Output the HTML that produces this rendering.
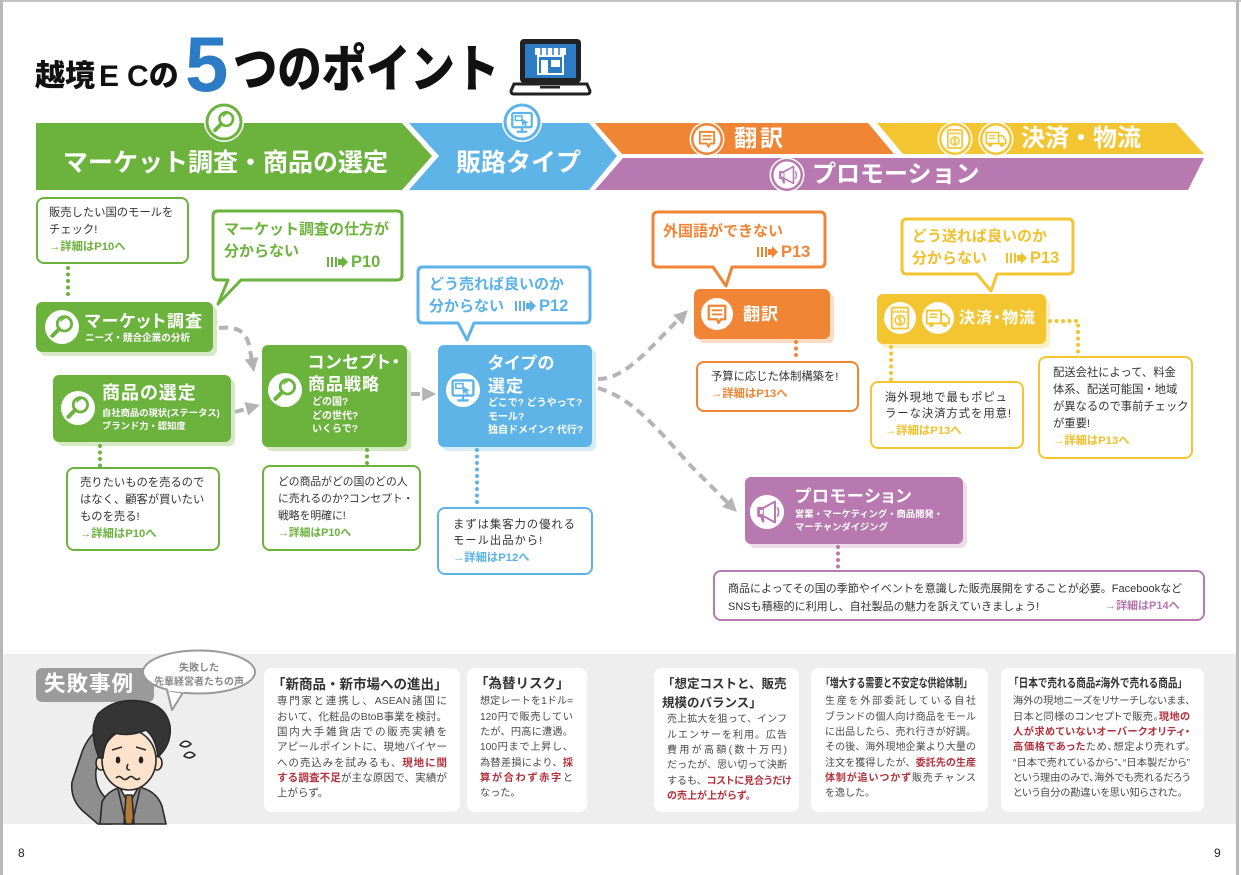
<!DOCTYPE html>
<html lang="ja"><head><meta charset="utf-8"><title>越境ECの5つのポイント</title>
<style>
*{margin:0;padding:0;box-sizing:border-box}
html,body{width:1241px;height:875px;overflow:hidden;background:#fff}
body{position:relative;font-family:"Liberation Sans","Noto Sans CJK JP",sans-serif;color:#333}
svg.bg{position:absolute;left:0;top:0}
.t{position:absolute;white-space:nowrap;line-height:1}
.w{color:#fff;font-weight:700}
.bx{font-size:11.3px;line-height:17px;color:#333}
.g{color:#6cb33e}.bl{color:#5bb2e6}.o{color:#ef8535}.y{color:#efc12c}.p{color:#b577ad}
.lk{font-weight:700}
.bb{font-size:15px;font-weight:700;line-height:22px}
.pn{display:flex;align-items:center;gap:3px;font-size:16.5px;font-weight:700}
.pn svg{fill:currentColor}
.ttl{font-size:17px;font-weight:700;color:#fff;font-feature-settings:"palt";letter-spacing:1px}
.sub{font-size:9.6px;font-weight:700;color:#fff}
.card{position:absolute;color:#4a4a4a;line-height:15.3px}
.card div{white-space:nowrap}
.j{text-align:justify;text-align-last:justify}
.r{color:#b2323c;font-weight:700}
.ct{position:absolute;font-weight:700;color:#333;white-space:nowrap;line-height:1}
</style></head><body>
<svg class="bg" width="1241" height="875" viewBox="0 0 1241 875">
<defs>
<symbol id="mag" viewBox="0 0 40 40">
<circle cx="23" cy="16" r="9" fill="none" stroke="currentColor" stroke-width="3.5"/>
<path d="M18.5,13 a5.5,5.5 0 0 1 5,-3.5" fill="none" stroke="currentColor" stroke-width="2"/>
<line x1="16.5" y1="22.5" x2="8" y2="31" stroke="currentColor" stroke-width="5" stroke-linecap="round"/>
</symbol>
<symbol id="mon" viewBox="0 0 40 40">
<rect x="7" y="8" width="26" height="19" rx="2" fill="none" stroke="currentColor" stroke-width="3"/>
<path d="M20,27 V32 M13,33 H27" stroke="currentColor" stroke-width="3"/>
<rect x="11" y="12" width="9" height="6" fill="none" stroke="currentColor" stroke-width="2"/>
<path d="M19,15 L29,21 L25,22 L27,26 L25,27 L23,23 L20,25 Z" fill="currentColor"/>
</symbol>
<symbol id="chat" viewBox="0 0 40 40">
<path d="M9,9 H31 V27 H25 L22,32 L20,27 H9 Z" fill="none" stroke="currentColor" stroke-width="3" stroke-linejoin="round"/>
<path d="M13,15 H27 M13,20.5 H27" stroke="currentColor" stroke-width="2.5"/>
</symbol>
<symbol id="calc" viewBox="0 0 40 40">
<rect x="9" y="6" width="22" height="28" rx="2" fill="none" stroke="currentColor" stroke-width="2.5"/>
<path d="M9,12 H31 M13,9 V12 M17,9 V12 M21,9 V12 M25,9 V12" stroke="currentColor" stroke-width="1.5"/>
<circle cx="20" cy="23" r="6.5" fill="none" stroke="currentColor" stroke-width="2"/>
<path d="M22.5,20 Q20,18.5 18,20 Q17,22 20,23 Q23,24 22,26 Q20,27.5 17.5,26 M20,17.5 V28.5" fill="none" stroke="currentColor" stroke-width="1.5"/>
</symbol>
<symbol id="truck" viewBox="0 0 40 40">
<path d="M5,10 H24 V27 H5 Z" fill="none" stroke="currentColor" stroke-width="2.5"/>
<path d="M24,15 H30 L35,21 V27 H24" fill="none" stroke="currentColor" stroke-width="2.5"/>
<path d="M9,15 H19 M9,19 H19" stroke="currentColor" stroke-width="2"/>
<circle cx="11" cy="29" r="3.2" fill="currentColor"/><circle cx="29" cy="29" r="3.2" fill="currentColor"/>
</symbol>
<symbol id="mega" viewBox="0 0 40 40">
<path d="M9,15 H15 L30,7 V33 L15,25 H9 Z" fill="none" stroke="currentColor" stroke-width="2.5" stroke-linejoin="round"/>
<path d="M11,25 L14,33 H17 L16,25" fill="currentColor"/>
<rect x="10.5" y="17" width="5" height="6" fill="none" stroke="currentColor" stroke-width="1.3"/>
<path d="M33,14 Q36,20 33,26" fill="none" stroke="currentColor" stroke-width="2"/>
</symbol>
<marker id="ah" viewBox="0 0 10 10" refX="2" refY="5" markerWidth="14" markerHeight="14" markerUnits="userSpaceOnUse" orient="auto"><path d="M0,0 L10,5 L0,10 z" fill="#b4b4b4"/></marker>
</defs>

<!-- page borders -->
<rect x="0" y="0" width="1241" height="2" fill="#c4c4c4"/>
<rect x="0" y="0" width="3" height="875" fill="#b8b8b8"/>
<rect x="1236" y="0" width="3" height="875" fill="#b8b8b8"/>

<!-- laptop -->
<rect x="520" y="39" width="61" height="44" rx="4" fill="#222"/>
<rect x="525" y="44" width="51" height="34" fill="#2b7bc5"/>
<rect x="535" y="48" width="31" height="7" fill="#fff"/>
<path d="M541,48 V55 M547,48 V55 M553,48 V55 M559,48 V55" stroke="#2b7bc5" stroke-width="1.5"/>
<rect x="538" y="56" width="25" height="18" fill="none" stroke="#fff" stroke-width="2"/>
<rect x="541" y="60" width="7" height="14" fill="#fff"/>
<rect x="551" y="60" width="9" height="7" fill="#fff"/>
<path d="M514,84 H587 L590,91 Q590,94 587,94 H514 Q511,94 511,91 Z" fill="#fff" stroke="#222" stroke-width="3"/>
<rect x="540" y="86" width="20" height="2.5" fill="#222"/>

<!-- banner -->
<polygon points="36,123 402,123 432,156 402,190 36,190" fill="#6cb33e"/>
<polygon points="409,123 589,123 617,156 589,190 409,190 439,156" fill="#5eb4e7"/>
<polygon points="595,123 868,123 894,154 622,154" fill="#ef8535"/>
<polygon points="877,123 1176,123 1204,154 903,154" fill="#f2c531"/>
<polygon points="623,158 1204,158 1188,190 595,190" fill="#b879b0"/>

<!-- banner icons -->
<circle cx="224" cy="122" r="20" fill="#fff"/><circle cx="224" cy="122" r="18.5" fill="#6cb33e"/><circle cx="224" cy="122" r="15.5" fill="#fff"/>
<use href="#mag" x="209" y="107" width="30" height="30" style="color:#6cb33e"/>
<circle cx="522" cy="122" r="20" fill="#fff"/><circle cx="522" cy="122" r="18.5" fill="#5eb4e7"/><circle cx="522" cy="122" r="15.5" fill="#fff"/>
<use href="#mon" x="507" y="107" width="30" height="30" style="color:#5eb4e7"/>
<circle cx="707" cy="139" r="17.5" fill="#fff"/><circle cx="707" cy="139" r="16" fill="#ef8535"/><circle cx="707" cy="139" r="13.5" fill="#fff"/>
<use href="#chat" x="694" y="126" width="26" height="26" style="color:#ef8535"/>
<circle cx="955" cy="139" r="17.5" fill="#fff"/><circle cx="955" cy="139" r="16" fill="#f2c531"/><circle cx="955" cy="139" r="13.5" fill="#fff"/>
<use href="#calc" x="942" y="126" width="26" height="26" style="color:#f2c531"/>
<circle cx="996" cy="139" r="17.5" fill="#fff"/><circle cx="996" cy="139" r="16" fill="#f2c531"/><circle cx="996" cy="139" r="13.5" fill="#fff"/>
<use href="#truck" x="983" y="126" width="26" height="26" style="color:#f2c531"/>
<circle cx="787" cy="175" r="17.5" fill="#fff"/><circle cx="787" cy="175" r="16" fill="#b879b0"/><circle cx="787" cy="175" r="13.5" fill="#fff"/>
<use href="#mega" x="774" y="162" width="26" height="26" style="color:#b879b0"/>

<!-- bubbles -->
<path d="M218,211 H397 Q402,211 402,216 V275 Q402,280 397,280 H241 L218,304 L228,280 H218 Q213,280 213,275 V216 Q213,211 218,211 Z" fill="#fff" stroke="#6cb33e" stroke-width="3" stroke-linejoin="round"/>
<path d="M423,267 H585 Q590,267 590,272 V318 Q590,323 585,323 H474 L467,340 L458,323 H423 Q418,323 418,318 V272 Q418,267 423,267 Z" fill="#fff" stroke="#5eb4e7" stroke-width="3" stroke-linejoin="round"/>
<path d="M658,212 H820 Q825,212 825,217 V262 Q825,267 820,267 H732 L726,286 L713,267 H658 Q653,267 653,262 V217 Q653,212 658,212 Z" fill="#fff" stroke="#ef8535" stroke-width="3" stroke-linejoin="round"/>
<path d="M907,219 H1068 Q1073,219 1073,224 V269 Q1073,274 1068,274 H997 L991,291 L977,274 H907 Q902,274 902,269 V224 Q902,219 907,219 Z" fill="#fff" stroke="#f2c531" stroke-width="3" stroke-linejoin="round"/>

<!-- node shadows + nodes -->
<rect x="40" y="306" width="177" height="50" rx="6" fill="#d5e9c4"/>
<rect x="36" y="302" width="177" height="50" rx="6" fill="#6cb33e"/>
<rect x="57" y="379" width="178" height="67" rx="6" fill="#d5e9c4"/>
<rect x="53" y="375" width="178" height="67" rx="6" fill="#6cb33e"/>
<rect x="266" y="349" width="145" height="102" rx="6" fill="#d5e9c4"/>
<rect x="262" y="345" width="145" height="102" rx="6" fill="#6cb33e"/>
<rect x="442" y="349" width="154" height="102" rx="6" fill="#d8edf9"/>
<rect x="438" y="345" width="154" height="102" rx="6" fill="#5eb4e7"/>
<rect x="698" y="293" width="136" height="50" rx="6" fill="#fbdcc4"/>
<rect x="694" y="289" width="136" height="50" rx="6" fill="#ef8535"/>
<rect x="881" y="298" width="169" height="50" rx="6" fill="#fbefc3"/>
<rect x="877" y="294" width="169" height="50" rx="6" fill="#f2c531"/>
<rect x="749" y="481" width="218" height="67" rx="6" fill="#eddcec"/>
<rect x="745" y="477" width="218" height="67" rx="6" fill="#b879b0"/>

<!-- node icons -->
<circle cx="62" cy="327" r="17" fill="#fff"/><use href="#mag" x="46" y="311" width="32" height="32" style="color:#6cb33e"/>
<circle cx="78" cy="408" r="17" fill="#fff"/><use href="#mag" x="62" y="392" width="32" height="32" style="color:#6cb33e"/>
<circle cx="285" cy="390" r="17" fill="#fff"/><use href="#mag" x="269" y="374" width="32" height="32" style="color:#6cb33e"/>
<circle cx="463" cy="390" r="17" fill="#fff"/><use href="#mon" x="447" y="374" width="32" height="32" style="color:#5eb4e7"/>
<circle cx="717" cy="314" r="16" fill="#fff"/><use href="#chat" x="702" y="299" width="30" height="30" style="color:#ef8535"/>
<circle cx="900" cy="318" r="16" fill="#fff"/><use href="#calc" x="885" y="303" width="30" height="30" style="color:#f2c531"/>
<circle cx="938" cy="318" r="16" fill="#fff"/><use href="#truck" x="923" y="303" width="30" height="30" style="color:#f2c531"/>
<circle cx="767" cy="512" r="17" fill="#fff"/><use href="#mega" x="751" y="496" width="32" height="32" style="color:#b879b0"/>

<!-- info boxes -->
<rect x="37" y="198" width="151" height="65" rx="7" fill="#fff" stroke="#6cb33e" stroke-width="2"/>
<rect x="67" y="468" width="152" height="82" rx="7" fill="#fff" stroke="#6cb33e" stroke-width="2"/>
<rect x="263" y="466" width="157" height="84" rx="7" fill="#fff" stroke="#6cb33e" stroke-width="2"/>
<rect x="438" y="508" width="154" height="66" rx="7" fill="#fff" stroke="#5eb4e7" stroke-width="2"/>
<rect x="697" y="362" width="161" height="49" rx="7" fill="#fff" stroke="#ef8535" stroke-width="2"/>
<rect x="871" y="382" width="152" height="66" rx="7" fill="#fff" stroke="#f2c531" stroke-width="2"/>
<rect x="1039" y="357" width="153" height="101" rx="7" fill="#fff" stroke="#f2c531" stroke-width="2"/>
<rect x="714" y="571" width="490" height="49" rx="7" fill="#fff" stroke="#b879b0" stroke-width="2"/>

<!-- dotted connectors -->
<g fill="none" stroke-width="4" stroke-linecap="round" stroke-dasharray="0 6.5">
<path d="M68,268 V300" stroke="#6cb33e"/>
<path d="M100,446 V466" stroke="#6cb33e"/>
<path d="M367,450 V464" stroke="#6cb33e"/>
<path d="M477,450 V506" stroke="#5eb4e7"/>
<path d="M796,342 V360" stroke="#ef8535"/>
<path d="M891,347 V380" stroke="#f2c531"/>
<path d="M1050,321 H1078 V355" stroke="#f2c531"/>
<path d="M838,547 V569" stroke="#b879b0"/>
</g>

<!-- dashed arrows -->
<g fill="none" stroke="#b4b4b4" stroke-width="4" stroke-dasharray="9 6" marker-end="url(#ah)">
<path d="M219,328 C238,326 246,332 249,345 L252,361"/>
<path d="M235,412 L249,408"/>
<path d="M411,394 L425,394"/>
<path d="M598,379 C625,379 648,350 680,318"/>
<path d="M598,388 C630,398 650,420 690,465 L729,504"/>
</g>

<!-- bottom band -->
<rect x="3" y="654" width="1233" height="170" fill="#eeeeee"/>
<rect x="264" y="668" width="196" height="144" rx="8" fill="#fff"/>
<rect x="467" y="668" width="120" height="144" rx="8" fill="#fff"/>
<rect x="654" y="668" width="145" height="144" rx="8" fill="#fff"/>
<rect x="811" y="668" width="177" height="144" rx="8" fill="#fff"/>
<rect x="1001" y="668" width="203" height="144" rx="8" fill="#fff"/>
<rect x="36" y="668" width="118" height="34" rx="6" fill="#9b9b9b"/>
<path d="M167,690 L172,710 L184,691 Z" fill="#fff" stroke="#999" stroke-width="2" stroke-linejoin="round"/>
<ellipse cx="199" cy="672" rx="56" ry="21.5" fill="#fff" stroke="#999" stroke-width="2"/>
<path d="M168,689 L184,691" stroke="#fff" stroke-width="3"/>

<!-- man -->
<g stroke="#2a2a2a" stroke-width="1.6" stroke-linejoin="round">
<path d="M98,824 L84,812 Q70,800 72,782 L82,752 Q88,736 100,728 L112,738 Q100,752 96,770 Q94,788 108,800 L112,824 Z" fill="#8e8e8e"/>
<path d="M100,824 L102,802 Q108,790 122,787 L138,787 Q156,790 162,806 L166,824 Z" fill="#8e8e8e"/>
<path d="M120,788 L129,804 L138,788 Z" fill="#fff"/>
<path d="M126,795 L132,795 L134,824 L124,824 Z" fill="#b27a3a"/>
<path d="M118,789 L126,824 M140,789 L132,824" fill="none"/>
<rect x="121" y="779" width="16" height="9" fill="#fde3cc" stroke="none"/>
<ellipse cx="101" cy="763" rx="5" ry="7" fill="#fde3cc"/>
<ellipse cx="157" cy="763" rx="5" ry="7" fill="#fde3cc"/>
<ellipse cx="129" cy="760" rx="27" ry="30" fill="#fde3cc"/>
<path d="M99,758 Q88,730 98,714 Q114,698 140,701 Q166,704 170,726 Q172,744 158,757 Q156,738 146,730 Q130,737 114,733 Q104,742 103,758 Z" fill="#353535"/>
<ellipse cx="118" cy="760" rx="2.3" ry="3.5" fill="#222" stroke="none"/>
<ellipse cx="141" cy="760" rx="2.3" ry="3.5" fill="#222" stroke="none"/>
<path d="M112,750 L122,747 M136,747 L146,750" fill="none"/>
<path d="M128,764 Q125,770 130,770" fill="none"/>
<path d="M116,778 q3,-3 6,0 q3,3 6,0 q3,-3 6,0 q3,3 6,0" fill="none"/>
<path d="M180,745 q5,-7 11,-1 q-5,5 -11,1 Z M184,756 q5,-7 11,-1 q-5,5 -11,1 Z" fill="#fff"/>
</g>
</svg>

<!-- title -->
<div class="t" style="left:35px;top:62px;font-size:30px;font-weight:900;color:#111">越境<span style="margin-left:4px">E</span><span style="margin-left:8px">C</span>の</div>
<div class="t" style="left:185px;top:25px;font-size:78px;font-weight:700;color:#2b7bc5">5</div>
<div class="t" style="left:233px;top:44px;font-size:51px;font-weight:900;color:#111;transform:scaleX(.87);transform-origin:left top">つのポイント</div>

<!-- banner labels -->
<div class="t w" style="left:63px;top:151px;font-size:25px">マーケット調査・商品の選定</div>
<div class="t w" style="left:456px;top:151px;font-size:25px">販路タイプ</div>
<div class="t w" style="left:734px;top:127px;font-size:23px;letter-spacing:3px">翻訳</div>
<div class="t w" style="left:1021px;top:127px;font-size:24px">決済・物流</div>
<div class="t w" style="left:812px;top:163px;font-size:24px">プロモーション</div>

<!-- bubbles text -->
<div class="t bb g" style="left:224px;top:219px">マーケット調査の仕方が<br>分からない</div>
<div class="t pn g" style="left:327px;top:254px"><svg width="21" height="12" viewBox="0 0 21 12"><rect x="0" y="1" width="2" height="10"/><rect x="4" y="1" width="2" height="10"/><rect x="8" y="1" width="2" height="10"/><path d="M11,3 H15 V0 L21,6 L15,12 V9 H11 Z"/></svg>P10</div>
<div class="t bb bl" style="left:429px;top:274px">どう売れば良いのか<br>分からない</div>
<div class="t pn bl" style="left:515px;top:298px"><svg width="21" height="12" viewBox="0 0 21 12"><rect x="0" y="1" width="2" height="10"/><rect x="4" y="1" width="2" height="10"/><rect x="8" y="1" width="2" height="10"/><path d="M11,3 H15 V0 L21,6 L15,12 V9 H11 Z"/></svg>P12</div>
<div class="t bb o" style="left:663px;top:221px">外国語ができない</div>
<div class="t pn o" style="left:757px;top:244px"><svg width="21" height="12" viewBox="0 0 21 12"><rect x="0" y="1" width="2" height="10"/><rect x="4" y="1" width="2" height="10"/><rect x="8" y="1" width="2" height="10"/><path d="M11,3 H15 V0 L21,6 L15,12 V9 H11 Z"/></svg>P13</div>
<div class="t bb y" style="left:912px;top:226px">どう送れば良いのか<br>分からない</div>
<div class="t pn y" style="left:1006px;top:250px"><svg width="21" height="12" viewBox="0 0 21 12"><rect x="0" y="1" width="2" height="10"/><rect x="4" y="1" width="2" height="10"/><rect x="8" y="1" width="2" height="10"/><path d="M11,3 H15 V0 L21,6 L15,12 V9 H11 Z"/></svg>P13</div>

<!-- node text -->
<div class="t ttl" style="left:85px;top:313px">マーケット調査</div>
<div class="t sub" style="left:85px;top:334px">ニーズ・競合企業の分析</div>
<div class="t ttl" style="left:102px;top:384px;font-size:18px">商品の選定</div>
<div class="t sub" style="left:102px;top:407px;line-height:12.5px;font-size:9.3px">自社商品の現状(ステータス)<br>ブランド力・認知度</div>
<div class="t ttl" style="left:308px;top:352px;line-height:22px">コンセプト・<br>商品戦略</div>
<div class="t sub" style="left:312px;top:396px;line-height:13.5px;font-size:10px">どの国?<br>どの世代?<br>いくらで?</div>
<div class="t ttl" style="left:488px;top:352px;line-height:23px">タイプの<br>選定</div>
<div class="t sub" style="left:488px;top:397px;line-height:13.5px;font-size:10px">どこで? どうやって?<br>モール?<br>独自ドメイン? 代行?</div>
<div class="t ttl" style="left:743px;top:306px">翻訳</div>
<div class="t ttl" style="left:959px;top:311px;font-size:16px">決済・物流</div>
<div class="t ttl" style="left:795px;top:488px">プロモーション</div>
<div class="t sub" style="left:795px;top:508px;line-height:13px;font-size:9.3px">営業・マーケティング・商品開発・<br>マーチャンダイジング</div>

<!-- box text -->
<div class="t bx" style="left:49px;top:204.5px">販売したい国のモールを<br>チェック!<br><span class="lk g">→詳細はP10へ</span></div>
<div class="t bx" style="left:80px;top:474.5px">売りたいものを売るので<br>はなく、顧客が買いたい<br>ものを売る!<br><span class="lk g">→詳細はP10へ</span></div>
<div class="t bx" style="left:278px;top:473.5px;font-size:10.8px">どの商品がどの国のどの人<br>に売れるのか?コンセプト・<br>戦略を明確に!<br><span class="lk g">→詳細はP10へ</span></div>
<div class="t bx" style="left:453px;top:516.5px;line-height:16.5px;letter-spacing:1px">まずは集客力の優れる<br>モール出品から!<br><span class="lk bl" style="letter-spacing:0">→詳細はP12へ</span></div>
<div class="t bx" style="left:711px;top:368.5px">予算に応じた体制構築を!<br><span class="lk o">→詳細はP13へ</span></div>
<div class="t bx" style="left:885px;top:389.5px;line-height:16.5px;letter-spacing:1px">海外現地で最もポピュ<br>ラーな決済方式を用意!<br><span class="lk y" style="letter-spacing:0">→詳細はP13へ</span></div>
<div class="t bx" style="left:1053px;top:364.5px">配送会社によって、料金<br>体系、配送可能国・地域<br>が異なるので事前チェック<br>が重要!<br><span class="lk y">→詳細はP13へ</span></div>
<div class="t bx" style="left:728px;top:579.5px;line-height:18px;font-size:11px">商品によってその国の季節やイベントを意識した販売展開をすることが必要。Facebookなど<br>SNSも積極的に利用し、自社製品の魅力を訴えていきましょう!</div>
<div class="t bx lk p" style="left:1105px;top:597.5px;font-size:11px">→詳細はP14へ</div>

<!-- bottom section -->
<div class="t w" style="left:44px;top:674px;font-size:21.5px;letter-spacing:1px">失敗事例</div>
<div class="t" style="left:143px;width:112px;text-align:center;top:662px;font-size:10px;font-weight:700;color:#888;line-height:14px">失敗した<br>先輩経営者たちの声</div>

<div class="ct" style="left:272px;top:678px;font-size:13.5px">「新商品・新市場への進出」</div>
<div class="card" style="left:277px;top:694.4px;width:170px;font-size:10.5px">
<div class="j">専門家と連携し、ASEAN諸国に</div>
<div class="j">おいて、化粧品のBtoB事業を検討。</div>
<div class="j">国内大手雑貨店での販売実績を</div>
<div class="j">アピールポイントに、現地バイヤー</div>
<div class="j">への売込みを試みるも、<span class="r">現地に関</span></div>
<div class="j"><span class="r">する調査不足</span>が主な原因で、実績が</div>
<div>上がらず。</div>
</div>

<div class="ct" style="left:475px;top:677px;font-size:13.5px">「為替リスク」</div>
<div class="card" style="left:480px;top:694.4px;width:93px;font-size:10.2px">
<div class="j">想定レートを1ドル=</div>
<div class="j">120円で販売してい</div>
<div class="j">たが、円高に遭遇。</div>
<div class="j">100円まで上昇し、</div>
<div class="j">為替差損により、<span class="r">採</span></div>
<div class="j"><span class="r">算が合わず赤字</span>と</div>
<div>なった。</div>
</div>

<div class="ct" style="left:662px;top:675px;font-size:12.5px;line-height:19px">「想定コストと、販売<br>規模のバランス」</div>
<div class="card" style="left:667px;top:712.4px;width:120px;font-size:10px">
<div class="j">売上拡大を狙って、インフ</div>
<div class="j">ルエンサーを利用。広告</div>
<div class="j">費用が高額(数十万円)</div>
<div class="j">だったが、思い切って決断</div>
<div class="j">するも、<span class="r" style="font-feature-settings:'palt'">コストに見合うだけ</span></div>
<div><span class="r">の売上が上がらず。</span></div>
</div>

<div class="ct" style="left:821px;top:677px;font-size:12px;transform:scaleX(.74);transform-origin:left top">「増大する需要と不安定な供給体制」</div>
<div class="card" style="left:825px;top:694.4px;width:151px;font-size:10px">
<div class="j">生産を外部委託している自社</div>
<div class="j">ブランドの個人向け商品をモール</div>
<div class="j">に出品したら、売れ行きが好調。</div>
<div class="j">その後、海外現地企業より大量の</div>
<div class="j">注文を獲得したが、<span class="r">委託先の生産</span></div>
<div class="j"><span class="r">体制が追いつかず</span>販売チャンス</div>
<div>を逸した。</div>
</div>

<div class="ct" style="left:1009px;top:677px;font-size:12px;transform:scaleX(.8);transform-origin:left top">「日本で売れる商品≠海外で売れる商品」</div>
<div class="card" style="left:1013px;top:694.4px;width:177px;font-size:10.2px;font-feature-settings:'palt'">
<div class="j">海外の現地ニーズをリサーチしないまま、</div>
<div class="j">日本と同様のコンセプトで販売。<span class="r">現地の</span></div>
<div class="j"><span class="r">人が求めていないオーバークオリティ・</span></div>
<div class="j"><span class="r">高価格であった</span>ため、想定より売れず。</div>
<div class="j">“日本で売れているから”、“日本製だから”</div>
<div class="j">という理由のみで、海外でも売れるだろう</div>
<div>という自分の勘違いを思い知らされた。</div>
</div>

<div class="t" style="left:18px;top:847px;font-size:12px;color:#222">8</div>
<div class="t" style="left:1214px;top:847px;font-size:12px;color:#222">9</div>
</body></html>
